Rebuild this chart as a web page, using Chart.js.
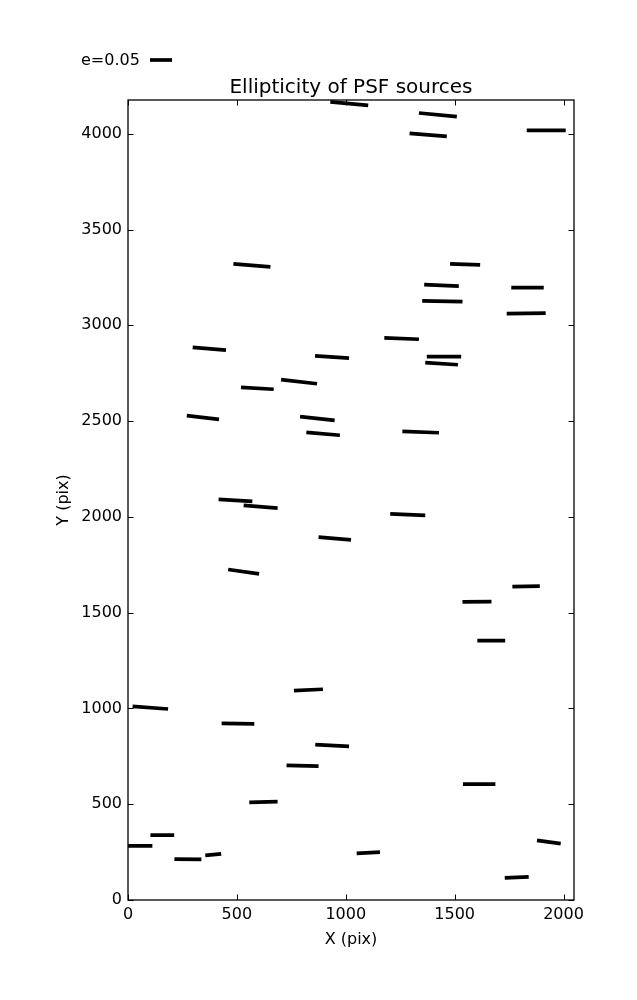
<!DOCTYPE html>
<html>
<head>
<meta charset="utf-8">
<title>Ellipticity of PSF sources</title>
<script src="https://cdn.jsdelivr.net/npm/chart.js@4.4.0/dist/chart.umd.min.js"></script>
<style>
  body { margin: 0; background: #fff; }
</style>
</head>
<body>
<canvas id="psfChart" width="637" height="1000"></canvas>
<script>
// whisker end points, image pixel coords (start x0,y0 -> end x1,y1)
var x0 = [929, 1336, 1293, 1831, 484, 1479, 1360, 1760, 1351, 1739, 1177, 297, 859, 1372, 1365, 703, 519, 270, 790, 1260, 819, 416, 531, 1204, 875, 460, 1765, 1536, 1604, 762, 21, 430, 860, 728, 1538, 557, -20, 103, 213, 355, 1050, 1878, 1730];
var y0 = [4166, 4108, 4002, 4017, 3321, 3321, 3212, 3197, 3127, 3061, 2934, 2885, 2840, 2836, 2805, 2716, 2676, 2528, 2523, 2446, 2441, 2091, 2060, 2016, 1894, 1725, 1636, 1556, 1354, 1093, 1011, 922, 811, 703, 605, 510, 283, 339, 213, 233, 243, 311, 116];
var x1 = [1103, 1510, 1464, 2010, 654, 1617, 1519, 1909, 1536, 1918, 1336, 450, 1015, 1530, 1515, 868, 669, 418, 949, 1428, 973, 571, 687, 1365, 1024, 602, 1891, 1669, 1732, 895, 184, 580, 1015, 875, 1687, 687, 112, 212, 337, 428, 1157, 1987, 1840];
var y1 = [4148, 4089, 3986, 4017, 3305, 3315, 3204, 3197, 3124, 3063, 2927, 2870, 2829, 2836, 2794, 2695, 2666, 2509, 2504, 2439, 2426, 2081, 2046, 2008, 1880, 1702, 1638, 1558, 1354, 1100, 997, 919, 802, 699, 605, 513, 283, 339, 212, 241, 250, 294, 121];

var xTicks = [0, 500, 1000, 1500, 2000];
var yTicks = [0, 500, 1000, 1500, 2000, 2500, 3000, 3500, 4000];
var xMax = 2048;
var yMax = 4176;
var keyLabel = 'e=0.05';

var font = '"DejaVu Sans", "Bitstream Vera Sans", sans-serif';

// one line dataset, broken with null points between whiskers
var segs = [];
for (var i = 0; i < x0.length; i++) {
  segs.push({x: x0[i], y: y0[i]});
  segs.push({x: x1[i], y: y1[i]});
  segs.push({x: x1[i], y: null});
}

// frame, inward ticks on all four sides, title and key
var frame = {
  id: 'frame',
  afterDatasetsDraw: function (chart) {
    var ctx = chart.ctx;
    var a = chart.chartArea;
    var xs = chart.scales.x;
    var ys = chart.scales.y;
    var tl = 5.5;
    ctx.save();
    ctx.strokeStyle = '#000';
    ctx.lineWidth = 1;
    ctx.beginPath();
    xs.ticks.forEach(function (t) {
      var p = Math.round(xs.getPixelForValue(t.value)) + 0.5;
      ctx.moveTo(p, a.bottom); ctx.lineTo(p, a.bottom - tl);
      ctx.moveTo(p, a.top); ctx.lineTo(p, a.top + tl);
    });
    ys.ticks.forEach(function (t) {
      var p = Math.round(ys.getPixelForValue(t.value)) + 0.5;
      ctx.moveTo(a.left, p); ctx.lineTo(a.left + tl, p);
      ctx.moveTo(a.right, p); ctx.lineTo(a.right - tl, p);
    });
    ctx.stroke();
    ctx.lineWidth = 1.3;
    ctx.strokeRect(a.left, a.top, a.right - a.left, a.bottom - a.top);

    ctx.fillStyle = '#000';
    ctx.font = '20px ' + font;
    ctx.textAlign = 'center';
    ctx.textBaseline = 'alphabetic';
    ctx.fillText('Ellipticity of PSF sources', (a.left + a.right) / 2, a.top - 7.5);

    // quiver key
    ctx.font = '16px ' + font;
    ctx.textAlign = 'left';
    ctx.fillText(keyLabel, 81, 65);
    ctx.lineWidth = 3.7;
    ctx.lineCap = 'butt';
    ctx.beginPath();
    ctx.moveTo(150, 60);
    ctx.lineTo(172, 60);
    ctx.stroke();
    ctx.restore();
  }
};

new Chart(document.getElementById('psfChart'), {
  type: 'scatter',
  data: {
    datasets: [{
      data: segs,
      showLine: true,
      spanGaps: false,
      borderColor: '#000',
      borderWidth: 3.7,
      borderCapStyle: 'butt',
      pointRadius: 0,
      pointHoverRadius: 0
    }]
  },
  options: {
    responsive: false,
    animation: false,
    devicePixelRatio: 1,
    layout: { padding: { left: 0, right: 63, top: 100, bottom: 0 } },
    plugins: {
      legend: { display: false },
      tooltip: { enabled: false },
      title: { display: false }
    },
    scales: {
      x: {
        type: 'linear',
        min: 0,
        max: xMax,
        grid: { display: false, drawTicks: false },
        border: { display: false },
        afterBuildTicks: function (s) { s.ticks = xTicks.map(function (v) { return {value: v}; }); },
        afterFit: function (s) { s.height = 100; },
        ticks: {
          padding: 5,
          color: '#000',
          font: { family: font, size: 16 },
          maxRotation: 0,
          callback: function (v) { return String(v); }
        },
        title: {
          display: true,
          text: 'X (pix)',
          color: '#000',
          font: { family: font, size: 16 },
          padding: { top: 0, bottom: 51 }
        }
      },
      y: {
        type: 'linear',
        min: 0,
        max: yMax,
        grid: { display: false, drawTicks: false },
        border: { display: false },
        afterBuildTicks: function (s) { s.ticks = yTicks.map(function (v) { return {value: v}; }); },
        afterFit: function (s) { s.width = 128; },
        ticks: {
          padding: 6,
          color: '#000',
          font: { family: font, size: 16 },
          callback: function (v) { return String(v); }
        },
        title: {
          display: true,
          text: 'Y (pix)',
          color: '#000',
          font: { family: font, size: 16 },
          padding: { top: 54, bottom: 0 }
        }
      }
    }
  },
  plugins: [frame]
});
</script>
</body>
</html>
